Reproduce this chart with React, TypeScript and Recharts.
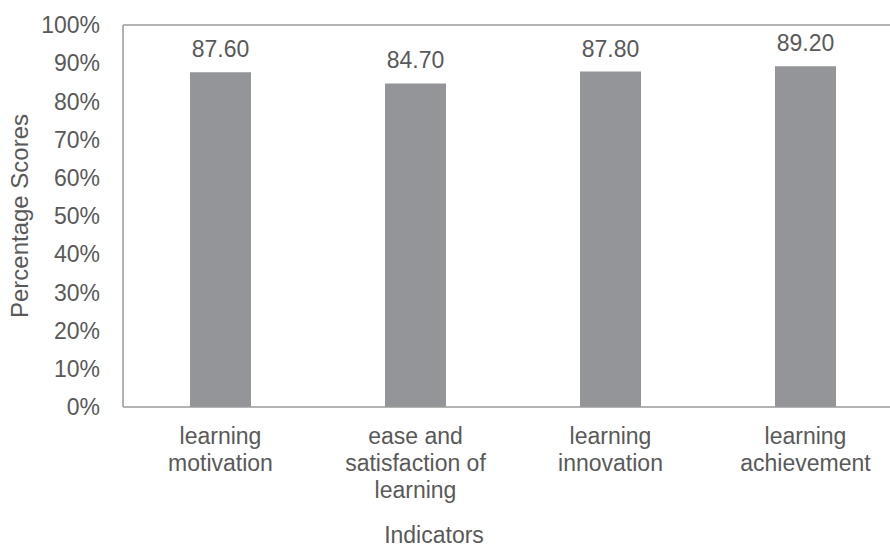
import React from 'react';
import { BarChart, Bar, XAxis, YAxis, LabelList, ReferenceLine, Label } from 'recharts';

const categories = [
  'learning\nmotivation',
  'ease and\nsatisfaction of\nlearning',
  'learning\ninnovation',
  'learning\nachievement',
];
const scores = [87.6, 84.7, 87.8, 89.2];
const yTicks = [0, 10, 20, 30, 40, 50, 60, 70, 80, 90, 100];

const data = categories.map((c, i) => ({ name: c, score: scores[i] }));

const TEXT = '#595959';
const AXIS = '#9a9a9a';
const FONT = '"Liberation Sans", Arial, sans-serif';

const CatTick = (props: any) => {
  const { x, y, payload } = props;
  const lines = String(payload.value).split('\n');
  return (
    <text x={x} y={y} textAnchor="middle" fill={TEXT} fontSize={23} fontFamily={FONT}>
      {lines.map((l: string, i: number) => (
        <tspan key={i} x={x} dy={i === 0 ? '0.71em' : 27}>
          {l}
        </tspan>
      ))}
    </text>
  );
};

export default function App() {
  return (
    <div style={{ position: 'absolute', left: 0, top: 0, width: 890, height: 548, overflow: 'hidden', background: '#fff' }}>
      <BarChart
        width={920}
        height={548}
        data={data}
        margin={{ top: 25, right: 17, bottom: 0, left: 0 }}
        style={{ fontFamily: FONT }}
      >
        <ReferenceLine y={100} stroke={AXIS} strokeWidth={1.5} ifOverflow="visible" />
        <XAxis
          dataKey="name"
          height={141}
          tickLine={false}
          tickSize={6}
          tickMargin={15}
          axisLine={{ stroke: AXIS, strokeWidth: 1.5 }}
          tick={<CatTick />}
          interval={0}
        >
          <Label value="Indicators" position="insideBottom" offset={5} dx={-79} fill={TEXT} fontSize={23} fontFamily={FONT} />
        </XAxis>
        <YAxis
          width={123}
          domain={[0, 100]}
          ticks={yTicks}
          interval={0}
          tickFormatter={(v: number) => `${v}%`}
          tickLine={false}
          tickSize={6}
          tickMargin={17}
          axisLine={{ stroke: AXIS, strokeWidth: 1.5 }}
          tick={{ fill: TEXT, fontSize: 23, fontFamily: FONT }}
        >
          <Label
            value="Percentage Scores"
            angle={-90}
            position="insideLeft"
            offset={19}
            style={{ textAnchor: 'middle' }}
            fill={TEXT}
            fontSize={24}
            fontFamily={FONT}
          />
        </YAxis>
        <Bar dataKey="score" fill="#939598" barSize={61} isAnimationActive={false}>
          <LabelList
            dataKey="score"
            position="top"
            offset={15}
            formatter={(v: any) => Number(v).toFixed(2)}
            fill={TEXT}
            fontSize={23}
            fontFamily={FONT}
          />
        </Bar>
      </BarChart>
    </div>
  );
}
